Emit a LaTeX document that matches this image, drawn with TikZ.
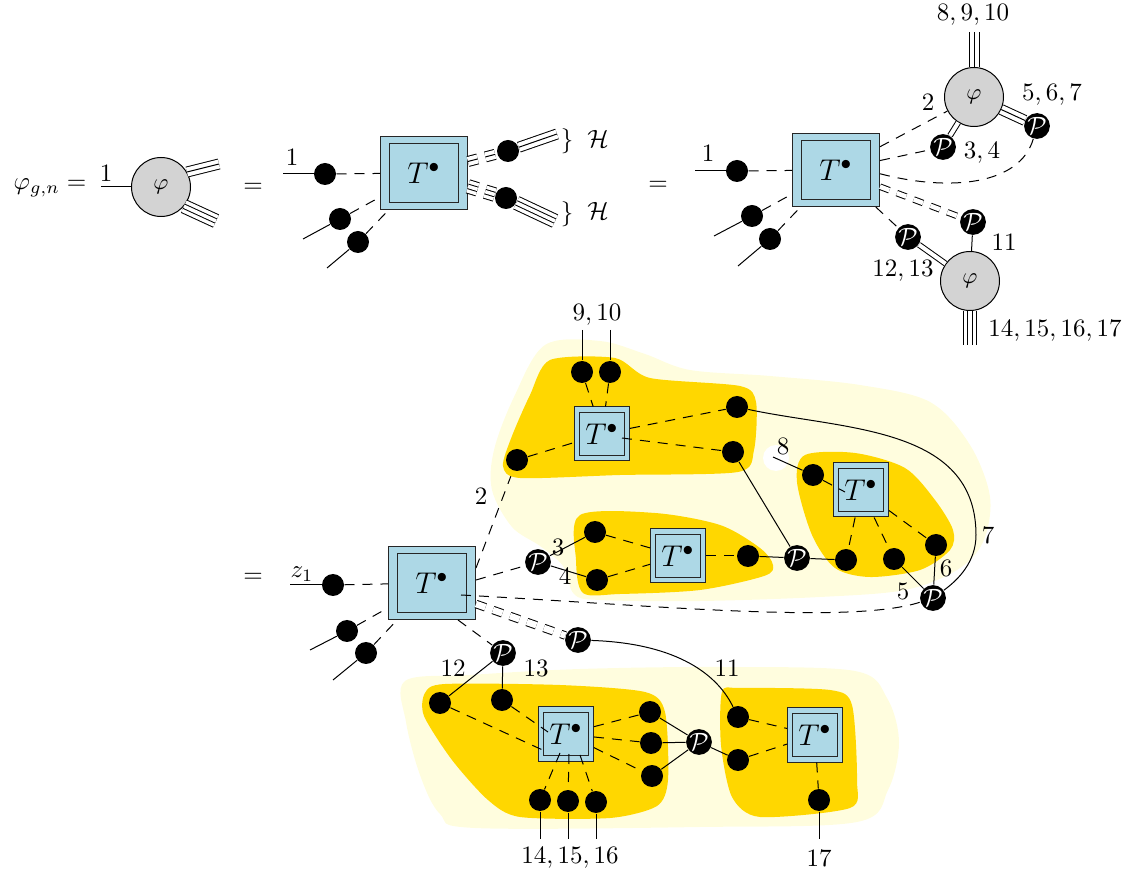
\documentclass[tikz,border=0pt]{standalone}
\usetikzlibrary{calc}
\definecolor{boxblue}{RGB}{173,216,230}
\definecolor{blobgray}{RGB}{211,211,211}
\definecolor{clustergold}{RGB}{255,215,0}
\definecolor{paleyellow}{RGB}{255,253,222}
\pgfdeclarelayer{bg}
\pgfsetlayers{bg,main}
\tikzset{
  dashed/.style={dash pattern=on 4pt off 3.2pt},
  dot/.style={circle, fill=black, inner sep=0pt, minimum size=8.8pt},
  pnode/.style={circle, fill=black, text=white, inner sep=0pt, minimum size=8.8pt},
  phi/.style={circle, draw, fill=blobgray, inner sep=0pt, minimum size=23.6pt, font=\small},
  Tbig/.style={draw=black!85, fill=boxblue, minimum width=34.8pt, minimum height=29.2pt, inner sep=0pt, font=\large,
    path picture={\draw[black!85] ([shift={(3.6pt,2.8pt)}]path picture bounding box.south west)
      rectangle ([shift={(-3.6pt,-2.8pt)}]path picture bounding box.north east);}},
  Tsmall/.style={draw=black!85, fill=boxblue, minimum width=22pt, minimum height=21.6pt, inner sep=0pt, font=\large,
    path picture={\draw[black!85] ([shift={(2pt,2.2pt)}]path picture bounding box.south west)
      rectangle ([shift={(-2pt,-2.2pt)}]path picture bounding box.north east);}},
  dbl/.style={double, double distance=1.6pt},
}
% three and four parallel strands between two points
\newcommand\tripleline[3][]{\draw[#1,double,double distance=3.6pt] #2 -- #3; \draw[#1] #2 -- #3;}
\newcommand\quadline[3][]{\draw[#1,double,double distance=5pt] #2 -- #3; \draw[#1,double,double distance=1.4pt] #2 -- #3;}

\begin{document}
\begin{tikzpicture}[x=0.4pt,y=-0.4pt]
\useasboundingbox (0,0) rectangle (1128,872);

% ---------------- first line: phi_{g,n} ----------------
\node at (50,188) {$\varphi_{g,n} =$};
\node (phi0) [phi] at (161,187) {$\varphi$};
\coordinate (a0) at (101,187);
\node at (106,173) {$1$};
\draw (a0) -- (phi0);
\coordinate (a1) at (219,164);
\coordinate (a2) at (216,221);
\tripleline{(phi0.30)}{(a1)}
\quadline{(phi0.-40)}{(a2)}
\node at (253,188) {$=$};

% second term
\node at (292,157) {$1$};
\coordinate (b0) at (283,174);
\node (d1)[dot] at (325,174) {};
\node (B1)[Tbig] at (424,173) {$T^\bullet$};
\node (d2)[dot] at (340,219) {};
\node (d3)[dot] at (358,242) {};
\coordinate (b1) at (303,239);
\coordinate (b2) at (327,268);
\node (d4)[dot] at (508,151) {};
\node (d5)[dot] at (506,198) {};
\coordinate (b3) at (557,134);
\coordinate (b4) at (555,221);
\node at (567,141) {$\}$};
\node at (598,139) {$\mathcal{H}$};
\node at (567,214) {$\}$};
\node at (598,211) {$\mathcal{H}$};
\draw (b0) -- (d1);
\draw[dashed] (d1) -- (B1);
\draw (b1) -- (d2);
\draw (b2) -- (d3);
\draw[dashed] (d2) -- (B1);
\draw[dashed] (d3) -- (B1);
\tripleline[dashed]{(B1)}{(d4)}
\quadline[dashed]{(B1)}{(d5)}
\tripleline{(d4)}{(b3)}
\quadline{(d5)}{(b4)}
\node at (658,186) {$=$};

% third term
\node at (708,153) {$1$};
\coordinate (c0) at (695,171);
\node (e1)[dot] at (737,171) {};
\node (B2)[Tbig] at (836,170) {$T^\bullet$};
\node (e2)[dot] at (752,216) {};
\node (e3)[dot] at (770,239) {};
\coordinate (c1) at (714,236);
\coordinate (c2) at (738,266);
\node (phiA)[phi] at (974,97) {$\varphi$};
\node (phiB)[phi] at (970,281) {$\varphi$};
\coordinate (c3) at (974,32);
\coordinate (c4) at (970,345);
\node at (973,15) {$8,9,10$};
\node at (928,102) {$2$};
\node (P1)[pnode] at (943,147) {$\mathcal{P}$};
\node at (982,153) {$3,4$};
\node (P2)[pnode] at (1037,126) {$\mathcal{P}$};
\node at (1052,95) {$5,6,7$};
\node (P3)[pnode] at (973,222) {$\mathcal{P}$};
\node at (1004,242) {$11$};
\node (P4)[pnode] at (908,237) {$\mathcal{P}$};
\node at (903,271) {$12,13$};
\node at (1055,331) {$14,15,16,17$};
\draw (c0) -- (e1);
\draw[dashed] (e1) -- (B2);
\draw (c1) -- (e2);
\draw (c2) -- (e3);
\draw[dashed] (e2) -- (B2);
\draw[dashed] (e3) -- (B2);
\tripleline{(phiA)}{(c3)}
\draw[dashed] (B2) -- (phiA);
\draw[dashed] (B2) -- (P1);
\draw[dbl] (P1) -- (phiA);
\tripleline{(phiA)}{(P2)}
\draw[dashed] ([yshift=-1.5pt]B2.east) .. controls (950,192) and (1020,185) .. (P2);
\draw[dashed,double,double distance=1.8pt] (B2) -- (P3);
\draw (P3) -- (phiB);
\draw[dashed] (B2) -- (P4);
\draw[dbl] (P4) -- (phiB);
\quadline{(phiB)}{(c4)}

% ---------------- second line: the clusters ----------------
\node at (253,578) {$=$};
\node at (302,574) {$z_1$};
\coordinate (z0) at (290,585);
\node (f1)[dot] at (333,585) {};
\node (M)[Tbig] at (432,583) {$T^\bullet$};
\node (f2)[dot] at (347,631) {};
\node (f3)[dot] at (366,653) {};
\coordinate (z2) at (310,650);
\coordinate (z3) at (333,680);
\draw (z0) -- (f1);
\draw[dashed] (f1) -- (M);
\draw (z2) -- (f2);
\draw (z3) -- (f3);
\draw[dashed] (f2) -- (M);
\draw[dashed] (f3) -- (M);
\node at (481,496) {$2$};

% upper cluster
\node (g1)[dot] at (582,372) {};
\node (g2)[dot] at (610,372) {};
\coordinate (g1u) at (582,330);
\coordinate (g2u) at (610,330);
\node at (597,315) {$9,10$};
\node (T1)[Tsmall] at (602,434) {$T^\bullet$};
\node (g3)[dot] at (517,460) {};
\node (g4)[dot] at (737,407) {};
\node (g5)[dot] at (733,452) {};
\coordinate (t1a) at (622,438);
\draw (g1u) -- (g1);
\draw (g2u) -- (g2);
\draw[dashed] (g1) -- (T1);
\draw[dashed] (g2) -- (T1);
\draw[dashed] (g3) -- (T1);
\draw[dashed] (T1) -- (g4);
\draw[dashed] (t1a) -- (g5);

% middle cluster
\node (P5)[pnode] at (538,562) {$\mathcal{P}$};
\node at (558,547) {$3$};
\node at (565,576) {$4$};
\node (h1)[dot] at (595,532) {};
\node (h2)[dot] at (597,580) {};
\node (T2)[Tsmall] at (678,556) {$T^\bullet$};
\node (h3)[dot] at (748,556) {};
\node (P9)[pnode] at (797,558) {$\mathcal{P}$};
\draw[dashed] ([yshift=1.2pt]M.east) -- (P5);
\draw (P5) -- (h1);
\draw (P5) -- (h2);
\draw[dashed] (h1) -- (T2);
\draw[dashed] (h2) -- (T2);
\draw[dashed] (T2) -- (h3);
\draw (h3) -- (P9);
\draw (g5) -- (P9);

% right cluster
\node (T3)[Tsmall] at (861,490) {$T^\bullet$};
\node (k0)[dot] at (813,475) {};
\coordinate (k0u) at (773,457);
\coordinate (t3a) at (845,492);
\node at (783,446) {$8$};
\node (k1)[dot] at (846,560) {};
\node (k2)[dot] at (894,559) {};
\node (k3)[dot] at (936,545) {};
\node (P6)[pnode] at (933,598) {$\mathcal{P}$};
\node at (903,591) {$5$};
\node at (946,568) {$6$};
\node at (988,535) {$7$};
\draw (k0u) -- (k0);
\draw[dashed] (k0) -- (t3a);
\draw[dashed] (T3) -- (k1);
\draw[dashed] (T3) -- (k2);
\draw[dashed] (T3) -- (k3);
\draw (P9) -- (k1);
\draw (k2) -- (P6);
\draw (k3) -- (P6);
\draw (g4) .. controls (844,430) and (976,426) .. (976,535) .. controls (976,562) and (958,580) .. (P6);
\coordinate (ms) at (461,595);
\draw[dashed] (ms) .. controls (650,605) and (850,625) .. (P6);

% lower clusters
\node (P7)[pnode] at (578,640) {$\mathcal{P}$};
\node (P8)[pnode] at (503,653) {$\mathcal{P}$};
\node at (453,668) {$12$};
\node at (536,668) {$13$};
\node at (727,668) {$11$};
\node (n1)[dot] at (440,703) {};
\node (n2)[dot] at (502,700) {};
\node (T4)[Tsmall] at (566,734) {$T^\bullet$};
\node (n3)[dot] at (650,712) {};
\node (n4)[dot] at (651,743) {};
\node (n5)[dot] at (652,776) {};
\node (P10)[pnode] at (699,742) {$\mathcal{P}$};
\node (o1)[dot] at (540,800) {};
\node (o2)[dot] at (568,801) {};
\node (o3)[dot] at (596,802) {};
\coordinate (o1d) at (540,839);
\coordinate (o2d) at (568,839);
\coordinate (o3d) at (596,839);
\node at (570,858) {$14,15,16$};
\node (m1)[dot] at (738,717) {};
\node (m2)[dot] at (738,760) {};
\node (T5)[Tsmall] at (815,735) {$T^\bullet$};
\node (o4)[dot] at (819,800) {};
\coordinate (o4d) at (819,839);
\node at (819,858) {$17$};
\coordinate (t4a) at (547,752);
\coordinate (t4b) at (548,732);
\coordinate (t4c) at (560,753);
\coordinate (t4d) at (569,754);
\coordinate (t4e) at (580,755);

\draw[dashed,double,double distance=2.6pt] ([yshift=-8.4pt]M.east) -- (P7);
\draw (P7) .. controls (670,643) and (715,670) .. (m1);
\draw[dashed] ([xshift=10.4pt]M.south) -- (P8);
\draw (P8) -- (n1);
\draw (P8) -- (n2);
\draw[dashed] (n1) -- (t4a);
\draw[dashed] (n2) -- (t4b);
\draw[dashed] (T4) -- (n3);
\draw[dashed] (T4) -- (n4);
\draw[dashed] (T4) -- (n5);
\draw (n3) -- (P10);
\draw (n4) -- (P10);
\draw (n5) -- (P10);
\draw (P10) -- (m2);
\draw[dashed] (t4c) -- (o1);
\draw[dashed] (t4d) -- (o2);
\draw[dashed] (t4e) -- (o3);
\draw (o1) -- (o1d);
\draw (o2) -- (o2d);
\draw (o3) -- (o3d);
\draw[dashed] (m1) -- (T5);
\draw[dashed] (m2) -- (T5);
\draw[dashed] (T5) -- (o4);
\draw (o4) -- (o4d);

% ---------------- shaded regions ----------------
\begin{pgfonlayer}{bg}
  \fill[paleyellow] plot[smooth cycle, tension=0.55] coordinates {
    (545,345) (600,341) (645,354) (690,370) (770,376) (860,385) (930,402) (970,445)
    (990,497) (983,542) (957,570) (905,590) (820,597) (700,601) (600,600) (574,594)
    (563,566) (540,546) (512,527) (492,490) (494,450) (514,397)};
  \fill[paleyellow] plot[smooth cycle, tension=0.55] coordinates {
    (405,681) (470,675) (580,669) (723,667) (855,671) (887,698) (899,742) (888,790)
    (857,822) (700,827) (475,828) (440,814) (420,775) (406,722)};
  \fill[white] (776,458) circle[radius=5.2pt];
  \draw[dashed] ([yshift=6pt]M.east) -- (g3);
  \fill[clustergold] plot[smooth cycle, tension=0.45] coordinates {
    (550,360) (615,358) (650,378) (740,386) (756,402) (754,450) (738,472) (620,475)
    (520,478) (503,466) (512,436) (530,395)};
  \fill[clustergold] plot[smooth cycle, tension=0.5] coordinates {
    (580,515) (655,513) (720,525) (760,548) (773,565) (764,576) (700,590) (620,594)
    (583,593) (576,560)};
  \fill[clustergold] plot[smooth cycle, tension=0.5] coordinates {
    (805,455) (855,453) (905,468) (935,500) (953,530) (950,550) (920,570) (870,577)
    (835,568) (812,535) (797,482)};
  \fill[clustergold] plot[smooth cycle, tension=0.45] coordinates {
    (425,693) (445,684) (560,685) (645,692) (665,712) (668,780) (657,806) (610,818)
    (520,817) (488,800) (452,760) (424,716)};
  \fill[clustergold] plot[smooth cycle, tension=0.45] coordinates {
    (722,692) (740,688) (830,690) (852,705) (857,780) (850,808) (760,817) (732,797)
    (721,745)};
\end{pgfonlayer}
\end{tikzpicture}
\end{document}
